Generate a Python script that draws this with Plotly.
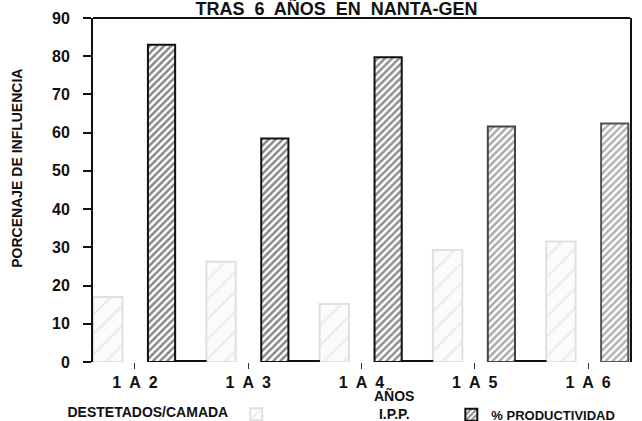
import plotly.graph_objects as go

categories = ["1 A 2", "1 A 3", "1 A 4", "1 A 5", "1 A 6"]
destetados_camada = [17.0, 26.2, 15.2, 29.3, 31.5]
productividad = [83.0, 58.5, 79.7, 61.6, 62.4]
tercera_serie = [0.4, 0.4, 0.3, 0.4, None]
y_ticks = [0, 10, 20, 30, 40, 50, 60, 70, 80, 90]

FONT = "Liberation Sans"

fig = go.Figure()

fig.add_trace(go.Bar(
    x=categories, y=destetados_camada, name="",
    offset=-0.37, width=0.26,
    marker=dict(color="#fbfbfb",
                line=dict(color="#e0e0e0", width=2),
                pattern=dict(shape="/", fgcolor="#d8d8d8", bgcolor="#fbfbfb",
                             size=14, solidity=0.15)),
    legend="legend",
))

fig.add_trace(go.Bar(
    x=categories, y=productividad, name="<b>% PRODUCTIVIDAD</b>",
    offset=0.115, width=0.24,
    marker=dict(color="white",
                line=dict(color=["#111", "#111", "#111", "#444", "#555"], width=2),
                pattern=dict(shape="/", fgcolor=["#111", "#111", "#222", "#555", "#666"],
                             bgcolor="white", size=5, solidity=0.5)),
    legend="legend2",
))

fig.add_trace(go.Bar(
    x=categories, y=tercera_serie, name="",
    offset=0.353, width=0.28,
    marker=dict(color="#111", line=dict(width=0)),
    showlegend=False,
))

fig.update_layout(
    width=642, height=421,
    margin=dict(l=93, r=12, t=18, b=59, autoexpand=False),
    paper_bgcolor="white", plot_bgcolor="white",
    font=dict(family=FONT, color="#111", size=14),
    title=dict(text="<b>TRAS  6  AÑOS  EN  NANTA-GEN</b>",
               x=0.524, xanchor="center", yref="container", y=0.98, yanchor="middle",
               font=dict(family=FONT, size=18, color="#111")),
    barmode="overlay",
    xaxis=dict(
        type="category", range=[-0.37, 4.37], automargin=False,
        showline=False, showgrid=False, zeroline=False,
        ticks="outside", ticklen=6, tickwidth=1, tickcolor="#333",
        tickfont=dict(family=FONT, size=16, color="#111"),
        tickvals=categories,
        ticktext=["<b>" + c.replace(" ", "\u2002") + "</b>" for c in categories],
    ),
    yaxis=dict(
        range=[0, 90], tickvals=y_ticks, automargin=False,
        ticktext=["<b>%d</b>" % v for v in y_ticks],
        showline=True, linecolor="#111", linewidth=2, mirror=True,
        ticks="outside", ticklen=8, tickwidth=1.5, tickcolor="#111",
        ticklabelstandoff=10,
        showgrid=False, zeroline=False,
        tickfont=dict(family=FONT, size=16, color="#111"),
    ),
    legend=dict(
        orientation="h", xref="container", x=0.102, xanchor="left",
        yref="container", y=0.015, yanchor="middle",
        title=dict(text="<b>DESTETADOS/CAMADA</b>", side="left",
                   font=dict(family=FONT, size=14, color="#111")),
        font=dict(family=FONT, size=14, color="#111"),
        bgcolor="rgba(0,0,0,0)",
    ),
    legend2=dict(
        orientation="h", xref="container", x=0.703, xanchor="left",
        yref="container", y=0.015, yanchor="middle",
        font=dict(family=FONT, size=13, color="#111"),
        bgcolor="rgba(0,0,0,0)",
    ),
    shapes=[dict(type="line", xref="paper", yref="paper", x0=0, x1=1, y0=1, y1=1,
                 line=dict(color="#111", width=2))],
    annotations=[
        dict(text="<b>AÑOS<br>I.P.P.</b>", xref="paper", yref="paper",
             x=0.56, y=-0.068, xanchor="center", yanchor="top",
             showarrow=False, align="center",
             font=dict(family=FONT, size=14, color="#111")),
        dict(text="<b>PORCENAJE DE INFLUENCIA</b>", xref="paper", yref="paper",
             x=-0.142, y=0.564, xanchor="center", yanchor="middle", textangle=-90,
             showarrow=False, font=dict(family=FONT, size=14, color="#111")),
    ],
)

fig.write_html("out.html", config={"displayModeBar": False},
               post_script="document.body.style.margin='0';document.body.style.padding='0';")
